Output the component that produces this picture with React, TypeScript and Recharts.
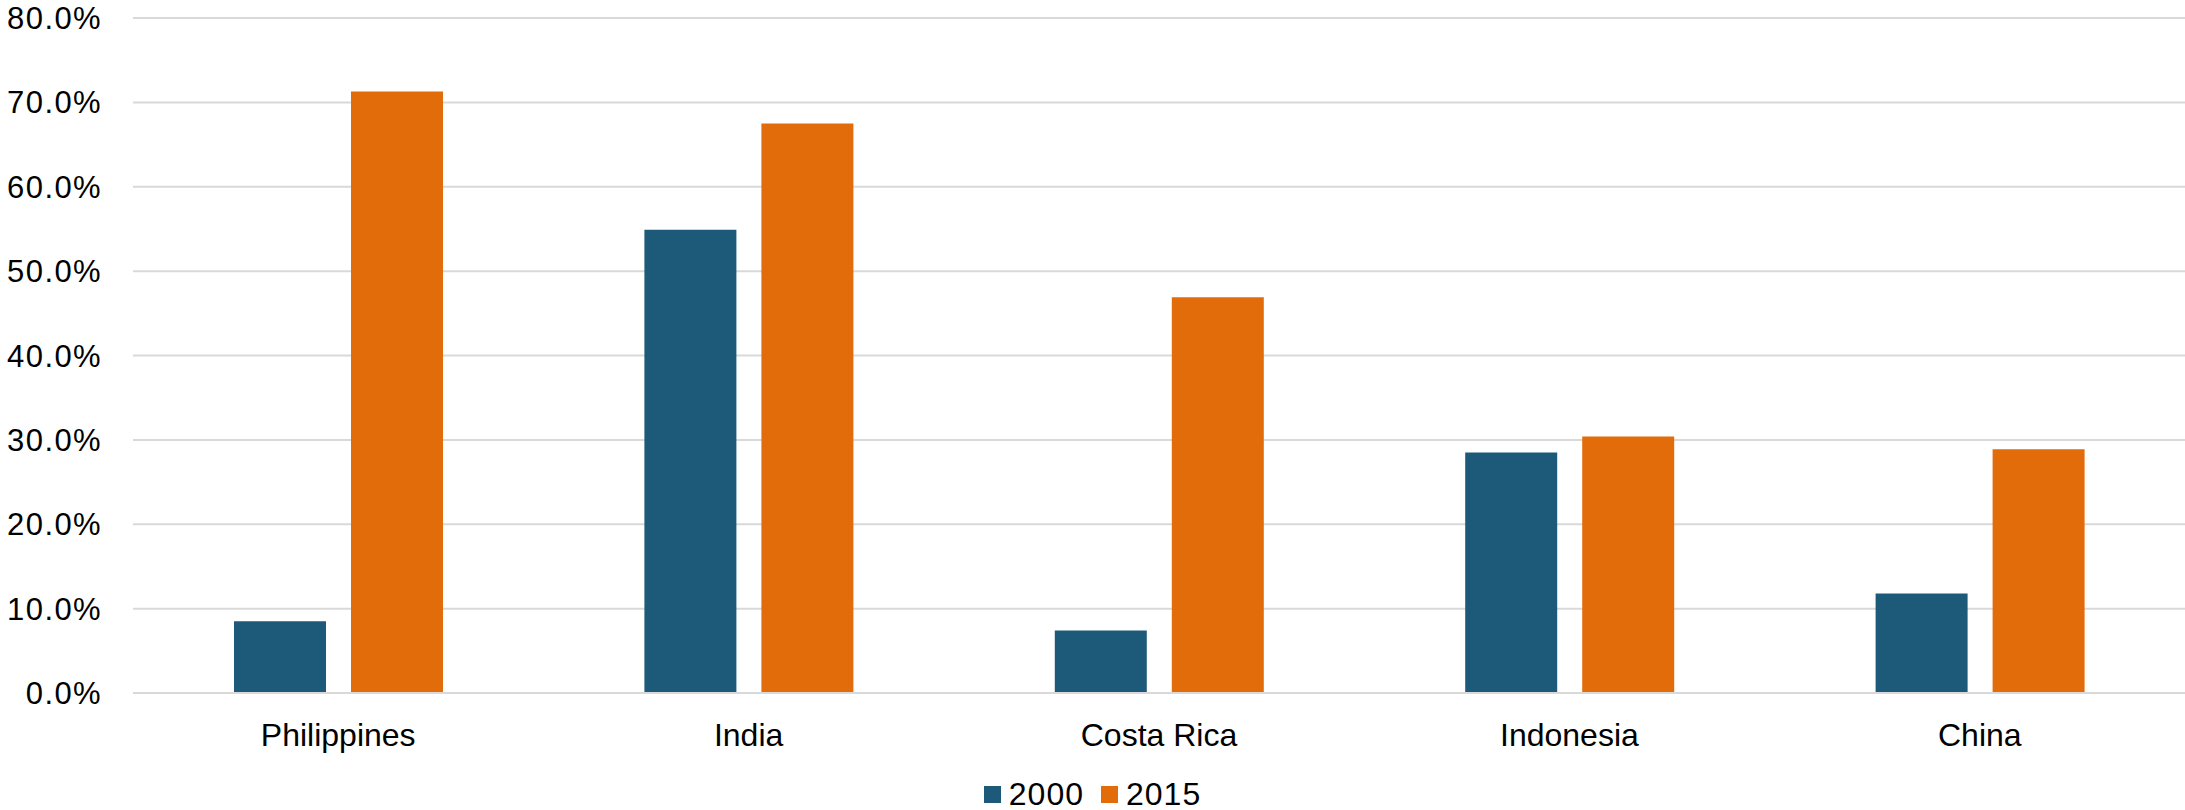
import React from 'react';
import { BarChart, Bar, XAxis, YAxis, CartesianGrid, Legend } from 'recharts';

// Share (%) by country, 2000 vs 2015
const countries = ['Philippines', 'India', 'Costa Rica', 'Indonesia', 'China'];
const values2000 = [8.5, 54.9, 7.4, 28.5, 11.8];
const values2015 = [71.3, 67.5, 46.9, 30.4, 28.9];
const yTicks = [0, 10, 20, 30, 40, 50, 60, 70, 80];
const seriesNames = ['2000', '2015'];

const BLUE = '#1d5a7a';
const ORANGE = '#e36c0a';
const GRID = '#d9d9d9';
const FONT = '"Liberation Sans", Arial, sans-serif';

const data = countries.map((country, i) => ({
  country,
  y2000: values2000[i],
  y2015: values2015[i],
}));

const LegendContent = () => {
  const colors = [BLUE, ORANGE];
  return (
    <div
      style={{
        height: 47,
        display: 'flex',
        justifyContent: 'center',
        alignItems: 'flex-end',
        fontFamily: FONT,
      }}
    >
      {seriesNames.map((name, i) => (
        <div
          key={name}
          style={{
            display: 'flex',
            alignItems: 'center',
            marginRight: i === 0 ? 17 : 0,
          }}
        >
          <span
            style={{
              display: 'inline-block',
              width: 17,
              height: 17,
              background: colors[i],
              marginRight: 8,
            }}
          />
          <span
            style={{
              fontSize: 32,
              lineHeight: '32px',
              letterSpacing: 1,
              color: '#000',
            }}
          >
            {name}
          </span>
        </div>
      ))}
    </div>
  );
};

export default function App() {
  return (
    <div style={{ position: 'absolute', left: 0, top: 0, width: 2185, height: 810, background: '#fff' }}>
      <BarChart
        width={2185}
        height={810}
        data={data}
        margin={{ top: 18, right: 0, bottom: 0, left: 0 }}
        barSize={92}
        barGap={25}
      >
        <CartesianGrid vertical={false} stroke={GRID} strokeWidth={2} />
        <XAxis
          dataKey="country"
          height={70}
          tickLine={false}
          tickSize={0}
          tickMargin={30}
          axisLine={{ stroke: GRID, strokeWidth: 2 }}
          tick={{ fill: '#000', fontSize: 32, fontFamily: FONT }}
          interval={0}
        />
        <YAxis
          width={133}
          domain={[0, 80]}
          ticks={yTicks}
          interval={0}
          axisLine={false}
          tickLine={false}
          tickSize={0}
          tickMargin={31}
          tickFormatter={(v: number) => `${v.toFixed(1)}%`}
          tick={{ fill: '#000', fontSize: 31, fontFamily: FONT, letterSpacing: 1.4 }}
        />
        <Legend verticalAlign="bottom" height={47} content={<LegendContent />} />
        <Bar dataKey="y2000" name={seriesNames[0]} fill={BLUE} isAnimationActive={false} />
        <Bar dataKey="y2015" name={seriesNames[1]} fill={ORANGE} isAnimationActive={false} />
      </BarChart>
    </div>
  );
}
